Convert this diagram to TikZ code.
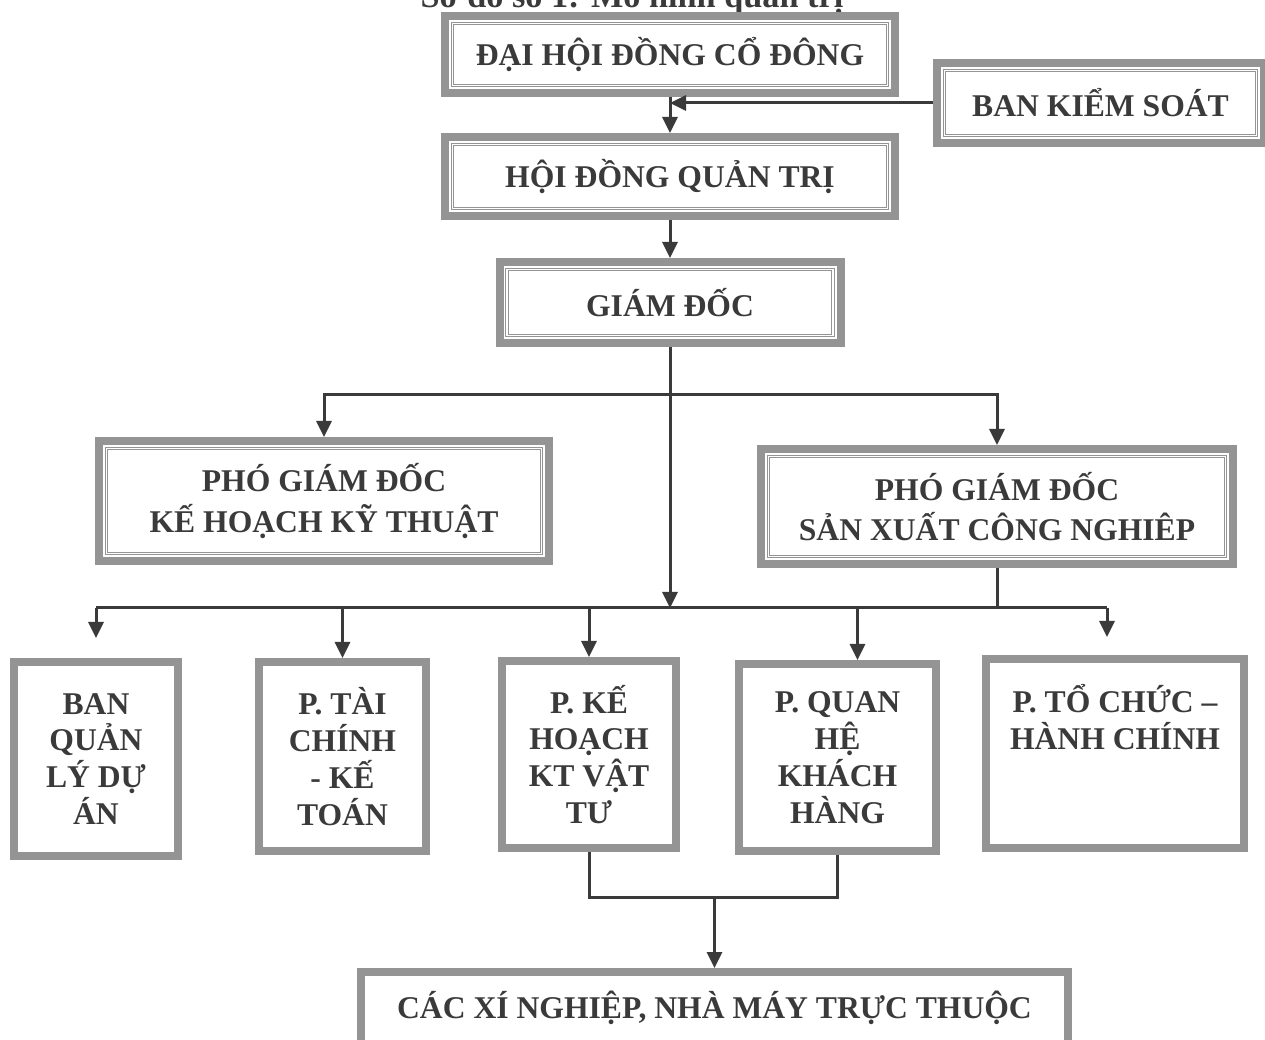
\documentclass[tikz,border=0pt]{standalone}
\usepackage{fontspec}
\setmainfont{Liberation Serif}
\usepackage{tikz}
\usetikzlibrary{positioning, arrows.meta, calc}
\definecolor{framegray}{RGB}{148,148,148}
\definecolor{inkgray}{RGB}{58,58,58}
\def\raster{0.2mm}
\tikzset{
    boxplain/.style={draw=framegray, line width=1.6mm, fill=white, text=inkgray,
        font=\bfseries\fontsize{18}{21}\selectfont, align=center, inner sep=0pt},
    boxframe/.style={boxplain, font=\bfseries\fontsize{18}{23}\selectfont,
        path picture={
            \draw[framegray, double, line width=0.5pt, double distance=1pt]
                ([xshift=1.5mm,yshift=1.5mm]path picture bounding box.south west)
                rectangle ([xshift=-1.5mm,yshift=-1.5mm]path picture bounding box.north east);
        }},
    conn/.style={draw=inkgray, line width=0.6mm},
    connarrow/.style={-{Triangle[length=3.2mm,width=3mm]}}
}

\begin{document}
\begin{tikzpicture}
    \useasboundingbox (0,0) rectangle (1265*\raster, 1039*\raster);

    % title, cut by the page
    \node[anchor=base, text=inkgray, font=\bfseries\fontsize{19.5}{22}\selectfont]
        (title) at (632*\raster, 1031*\raster) {Sơ đồ số 1: Mô hình quản trị};

    % framed boxes
    \foreach \name/\x/\y/\w/\h/\txt in {
        dhdcd/670/984.5/450/77/{ĐẠI HỘI ĐỒNG CỔ ĐÔNG},
        bks/1100.5/936/327/80/{BAN KIỂM SOÁT},
        hdqt/670/862.5/450/79/{HỘI ĐỒNG QUẢN TRỊ},
        gd/670/736.5/341/81/{GIÁM ĐỐC},
        pgdkt/324/538/450/120/{PHÓ GIÁM ĐỐC\\KẾ HOẠCH KỸ THUẬT},
        pgdsx/997/532.5/472/115/{PHÓ GIÁM ĐỐC\\SẢN XUẤT CÔNG NGHIÊP}}{

        \node[boxframe, minimum width=\w*\raster, minimum height=\h*\raster]
            (\name) at (\x*\raster, \y*\raster) {\txt};
    }

    % plain boxes
    \foreach \name/\x/\y/\w/\h/\txt in {
        bql/96/280/164/194/{BAN\\QUẢN\\LÝ DỰ\\ÁN},
        ptc/342.5/282.5/167/189/{P. TÀI\\CHÍNH\\- KẾ\\TOÁN},
        pkh/589/284.5/174/187/{P. KẾ\\HOẠCH\\KT VẬT\\TƯ},
        pqh/837.5/281.5/197/187/{P. QUAN\\HỆ\\KHÁCH\\HÀNG},
        ptchc/1115/285.5/258/189/{P. TỔ CHỨC –\\HÀNH CHÍNH\\~\\~},
        xn/714.5/31/707/72/{CÁC XÍ NGHIỆP, NHÀ MÁY TRỰC THUỘC}}{

        \node[boxplain, minimum width=\w*\raster, minimum height=\h*\raster]
            (\name) at (\x*\raster, \y*\raster) {\txt};
    }

    % bus lines
    \coordinate (busa) at (0, 644*\raster);
    \coordinate (busb) at (0, 431*\raster);
    \coordinate (busc) at (0, 142*\raster);

    % top chain
    \draw[conn, connarrow] (dhdcd.south) -- (hdqt.north);
    \draw[conn, connarrow] (bks.west) -- (bks.west -| dhdcd.south);
    \draw[conn, connarrow] (hdqt.south) -- (gd.north);
    \draw[conn, connarrow] (gd.south) -- (gd.south |- busb);

    % deputies
    \draw[conn, connarrow] (gd.south |- busa) -| (pgdkt.north);
    \draw[conn, connarrow] (gd.south |- busa) -| (pgdsx.north);
    \draw[conn] (pgdsx.south) -- (pgdsx.south |- busb);

    % departments
    \draw[conn] (bql.north |- busb) -- ([xshift=-1.6mm]ptchc.north |- busb);
    \draw[conn, connarrow, shorten >=4mm] (bql.north |- busb) -- (bql.north);
    \draw[conn, connarrow] (ptc.north |- busb) -- (ptc.north);
    \draw[conn, connarrow] (pkh.north |- busb) -- (pkh.north);
    \draw[conn, connarrow] ([xshift=4mm]pqh.north |- busb) -- ([xshift=4mm]pqh.north);
    \draw[conn, connarrow, shorten >=3.6mm] ([xshift=-1.6mm]ptchc.north |- busb) -- ([xshift=-1.6mm]ptchc.north);

    % factories
    \draw[conn] (pkh.south) |- (busc -| pqh.south) -- (pqh.south);
    \draw[conn, connarrow] (xn.north |- busc) -- (xn.north);
\end{tikzpicture}
\end{document}
